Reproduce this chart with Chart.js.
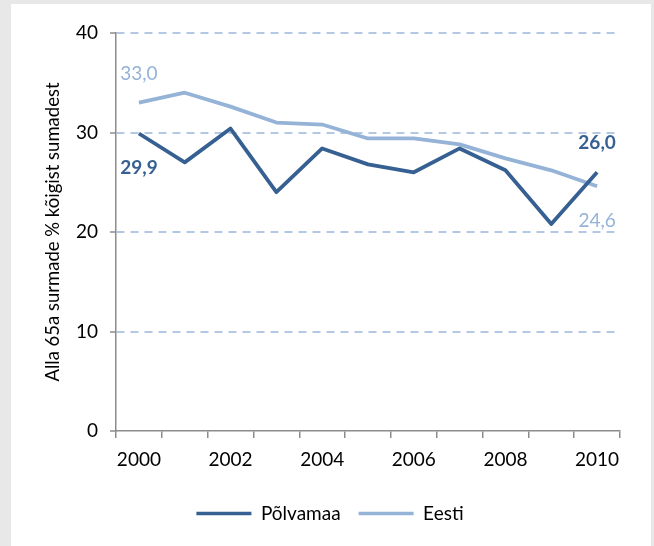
<!DOCTYPE html>
<html>
<head>
<meta charset="utf-8">
<script src="https://cdn.jsdelivr.net/npm/chart.js@4.4.0/dist/chart.umd.min.js"></script>
<style>
  html, body { margin: 0; padding: 0; background: #e8e8e8; }
  #panel { position: absolute; left: 11px; top: 4px; width: 640px; height: 542px; background: #fff; }
  #wrap { position: absolute; left: 0; top: 0; width: 654px; height: 546px; }
</style>
</head>
<body>
<div id="panel"></div>
<div id="wrap"><canvas id="chart" width="654" height="546"></canvas></div>
<script>
  /* ---------- Data ---------- */
  const years = ['2000', '2001', '2002', '2003', '2004', '2005', '2006', '2007', '2008', '2009', '2010'];
  const polvamaa = [29.9, 27.0, 30.4, 24.0, 28.4, 26.8, 26.0, 28.4, 26.2, 20.8, 26.0];
  const eesti = [33.0, 34.0, 32.6, 31.0, 30.8, 29.4, 29.4, 28.8, 27.4, 26.2, 24.6];
  const yTicks = [0, 10, 20, 30, 40];

  const FONT = 'Lato, "Open Sans", sans-serif';
  const DARK = '#376092';
  const LIGHT = '#95b3d7';
  const AXIS = '#8c8c8c';

  const fmt = (v) => v.toFixed(1).replace('.', ',');

  /* ---------- End-point value labels ---------- */
  const valueLabels = {
    id: 'valueLabels',
    afterDatasetsDraw(chart) {
      const ctx = chart.ctx;
      const last = years.length - 1;
      const specs = [
        { ds: 0, i: 0, dy: 34, bold: true, color: DARK },
        { ds: 0, i: last, dy: -29, bold: true, color: DARK },
        { ds: 1, i: 0, dy: -29, bold: false, color: LIGHT },
        { ds: 1, i: last, dy: 35, bold: false, color: LIGHT },
      ];
      ctx.save();
      ctx.textAlign = 'center';
      ctx.textBaseline = 'middle';
      specs.forEach((s) => {
        const pt = chart.getDatasetMeta(s.ds).data[s.i];
        const val = chart.data.datasets[s.ds].data[s.i];
        ctx.font = (s.bold ? 'bold ' : '') + '19px ' + FONT;
        ctx.fillStyle = s.color;
        ctx.fillText(fmt(val), pt.x, pt.y + s.dy);
      });
      ctx.restore();
    },
  };

  new Chart(document.getElementById('chart'), {
    type: 'line',
    data: {
      labels: years,
      datasets: [
        {
          label: 'Põlvamaa',
          data: polvamaa,
          borderColor: DARK,
          backgroundColor: DARK,
          borderWidth: 3.8,
          pointRadius: 0,
          tension: 0,
          borderJoinStyle: 'round',
        },
        {
          label: 'Eesti',
          data: eesti,
          borderColor: LIGHT,
          backgroundColor: LIGHT,
          borderWidth: 3.8,
          pointRadius: 0,
          tension: 0,
          borderJoinStyle: 'round',
        },
      ],
    },
    options: {
      responsive: false,
      animation: false,
      layout: { padding: { left: 40, right: 34, top: 33, bottom: 13 } },
      scales: {
        x: {
          offset: true,
          grid: {
            offset: true,
            drawOnChartArea: false,
            drawTicks: true,
            tickLength: 7,
            color: AXIS,
            lineWidth: 1.5,
          },
          border: { color: AXIS, width: 1.5 },
          ticks: {
            autoSkip: false,
            maxRotation: 0,
            padding: 10,
            color: '#000',
            font: { family: FONT, size: 19 },
            callback: (v, i) => (i % 2 === 0 ? years[i] : ''),
          },
          afterFit: (s) => { s.height = 55; },
        },
        y: {
          min: 0,
          max: 40,
          afterBuildTicks: (s) => { s.ticks = yTicks.map((v) => ({ value: v })); },
          grid: {
            color: (c) => (c.tick && c.tick.value === 0 ? 'rgba(0,0,0,0)' : '#b3c8e3'),
            lineWidth: 2,
            tickLength: 6,
            tickColor: AXIS,
            tickWidth: 1.5,
            tickBorderDash: [],
          },
          border: { color: AXIS, width: 1.5, dash: [8, 6] },
          ticks: {
            padding: 12,
            color: '#000',
            font: { family: FONT, size: 19 },
          },
          title: {
            display: true,
            text: 'Alla 65a surmade % kõigist sumadest',
            color: '#000',
            font: { family: FONT, size: 18.5 },
            padding: { top: 2, bottom: 4 },
          },
          afterFit: (s) => { s.width = 76; },
        },
      },
      plugins: {
        legend: {
          position: 'bottom',
          labels: {
            boxWidth: 55,
            boxHeight: 3.5,
            padding: 18,
            color: '#000',
            font: { family: FONT, size: 19 },
            generateLabels: (chart) =>
              Chart.defaults.plugins.legend.labels.generateLabels(chart).map((l) => Object.assign(l, { lineWidth: 0 })),
          },
        },
        tooltip: { enabled: false },
      },
    },
    plugins: [valueLabels],
  });
</script>
</body>
</html>
